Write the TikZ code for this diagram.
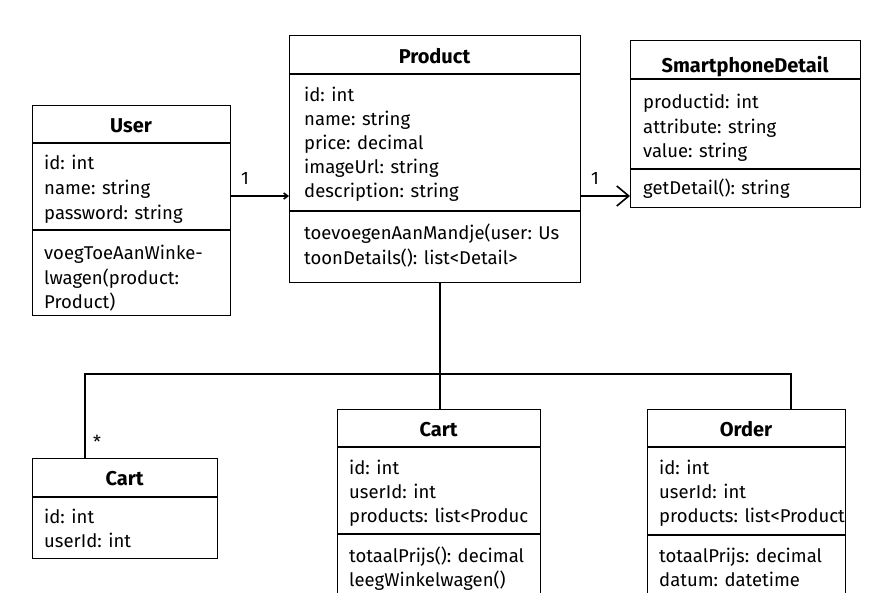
\documentclass[tikz,border=0pt]{standalone}
\usepackage{fontspec}
\setmainfont{Fira Sans}
\usetikzlibrary{arrows.meta}
\tikzset{
  umlbox/.style={draw,line width=1.3pt,anchor=north west,inner sep=0pt},
  umltitle/.style={font=\fontsize{20}{24}\selectfont\bfseries,inner sep=0pt,text height=14pt,text depth=0pt},
  umltext/.style={font=\fontsize{18.5}{22}\selectfont,anchor=west,inner sep=0pt,text height=14pt,text depth=0pt},
  divider/.style={line width=1.1pt},
  conn/.style={line width=1.6pt},
  mult/.style={font=\fontsize{18}{20}\selectfont,inner sep=0pt}
}
\begin{document}
\begin{tikzpicture}[x=1pt,y=-1pt]
\clip (0,0) rectangle (891,592);
\fill[white] (0,0) rectangle (891,592);

% User
\node[umlbox,minimum width=198pt,minimum height=210pt] (user) at (32,105) {};
\node[umltitle] (userT) at (131,125) {User};
\draw[divider] (32,143) -- (230,143);
\node[umltext] (u1) at (44,162) {id: int};
\node[umltext] (u2) at (44,187) {name: string};
\node[umltext] (u3) at (44,212) {password: string};
\draw[divider] (32,230) -- (230,230);
\node[umltext] (u4) at (44,252) {voegToeAanWinke-};
\node[umltext] (u5) at (44,277) {lwagen(product:};
\node[umltext] (u6) at (44,301) {Product)};

% Product
\node[umlbox,minimum width=291pt,minimum height=247pt] (product) at (289,35) {};
\node[umltitle] (prodT) at (434.5,56) {Product};
\draw[divider] (289,74) -- (580,74);
\node[umltext] (p1) at (304,94) {id: int};
\node[umltext] (p2) at (304,118) {name: string};
\node[umltext] (p3) at (304,142) {price: decimal};
\node[umltext] (p4) at (304,166) {imageUrl: string};
\node[umltext] (p5) at (304,190) {description: string};
\draw[divider] (289,211) -- (580,211);
\node[umltext] (p6) at (304,232) {toevoegenAanMandje(user: Us};
\node[umltext] (p7) at (304,257) {toonDetails(): list<Detail>};

% SmartphoneDetail
\node[umlbox,minimum width=230pt,minimum height=167pt] (detail) at (630,40) {};
\node[umltitle] (detT) at (745,65) {SmartphoneDetail};
\draw[divider] (630,79) -- (860,79);
\node[umltext] (d1) at (643,101) {productid: int};
\node[umltext] (d2) at (643,126) {attribute: string};
\node[umltext] (d3) at (643,150) {value: string};
\draw[divider] (630,169) -- (860,169);
\node[umltext] (d4) at (643,187) {getDetail(): string};

% Cart (links)
\node[umlbox,minimum width=185pt,minimum height=100pt] (cartA) at (32,458) {};
\node[umltitle] (cartAT) at (124.5,478) {Cart};
\draw[divider] (32,497) -- (217,497);
\node[umltext] (ca1) at (44,516) {id: int};
\node[umltext] (ca2) at (44,540) {userId: int};

% Cart (midden)
\node[umlbox,minimum width=203pt,minimum height=200pt] (cartB) at (337,409) {};
\node[umltitle] (cartBT) at (438.5,429) {Cart};
\draw[divider] (337,447) -- (540,447);
\node[umltext] (cb1) at (349,467) {id: int};
\node[umltext] (cb2) at (349,491) {userId: int};
\node[umltext] (cb3) at (349,515) {products: list<Produc};
\draw[divider] (337,534) -- (540,534);
\node[umltext] (cb4) at (349,555) {totaalPrijs(): decimal};
\node[umltext] (cb5) at (349,579) {leegWinkelwagen()};

% Order
\node[umlbox,minimum width=198pt,minimum height=200pt] (order) at (647,409) {};
\node[umltitle] (orderT) at (746,429) {Order};
\draw[divider] (647,447) -- (845,447);
\node[umltext] (o1) at (659,467) {id: int};
\node[umltext] (o2) at (659,491) {userId: int};
\node[umltext] (o3) at (659,515) {products: list<Product};
\draw[divider] (647,535) -- (845,535);
\node[umltext] (o4) at (659,555) {totaalPrijs: decimal};
\node[umltext] (o5) at (659,579) {datum: datetime};

% verbindingen
\draw[conn,-{Straight Barb[length=4pt,width=6pt]}] (user.east |- 0,196) -- (product.west |- 0,196);
\node[mult] (m1) at (245,178) {1};
\draw[conn,-{Straight Barb[length=12pt,width=20pt]}] (product.east |- 0,196) -- (detail.west |- 0,196);
\node[mult] (m2) at (595,178) {1};

\coordinate (hub) at (440,374);
\coordinate (jA) at (85,374);
\coordinate (jO) at (791,374);
\draw[conn] (hub |- product.south) -- (hub |- cartB.north);
\draw[conn] (jA |- cartA.north) -- (jA) -- (jO) -- (jO |- order.north);
\node[mult] (m3) at (97,442) {*};
\end{tikzpicture}
\end{document}
